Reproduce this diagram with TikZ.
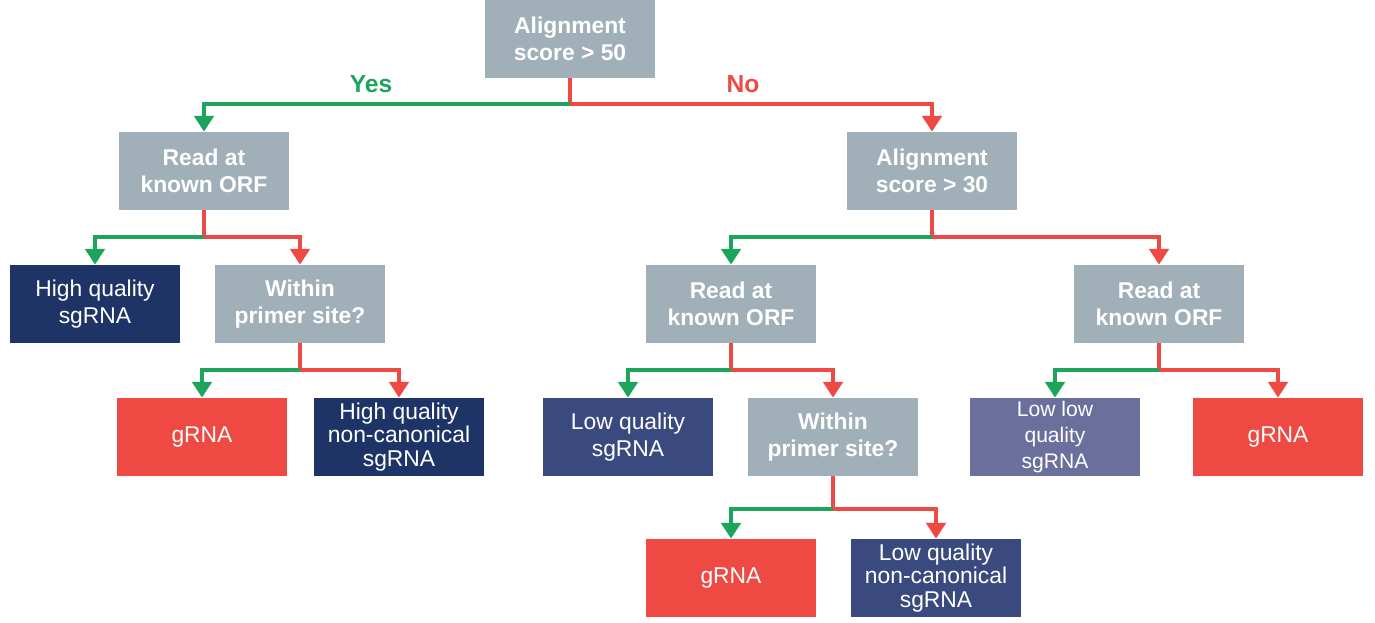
\documentclass[tikz,border=0pt]{standalone}
\usepackage{fontspec}
\setmainfont{Liberation Sans}
\usetikzlibrary{arrows.meta}

\definecolor{testgray}{HTML}{A1AFB8}
\definecolor{yesgreen}{HTML}{1BA45A}
\definecolor{nored}{HTML}{EE4A43}
\definecolor{hiqblue}{HTML}{1F3466}
\definecolor{loqblue}{HTML}{3B4A7E}
\definecolor{lolblue}{HTML}{6B6F9C}

\tikzset{
    box/.style={minimum width=3.4cm, minimum height=1.56cm, inner sep=0pt,
        align=center, text=white, font=\fontsize{13}{15.5}\selectfont},
    threeline/.style={font=\fontsize{13}{13.6}\selectfont},
    test/.style={box, fill=testgray, font=\fontsize{13}{15.5}\selectfont\bfseries},
    hiq/.style={box, fill=hiqblue},
    loq/.style={box, fill=loqblue},
    lol/.style={box, fill=lolblue},
    grna/.style={box, fill=nored},
    yesline/.style={draw=yesgreen, line width=2.3pt, -{Triangle[width=11pt,length=9pt]}},
    noline/.style={draw=nored, line width=2.3pt, -{Triangle[width=11pt,length=9pt]}},
}

\begin{document}
\begin{tikzpicture}[x=0.02cm, y=-0.02cm]
        \useasboundingbox (0,0) rectangle (1375,622);

        % first split
        \node[test] (score50) at (570,39) {Alignment\\score > 50};
        \node[test] (orf_yes) at (204,171) {Read at\\known ORF};
        \node[test] (score30) at (932,171) {Alignment\\score > 30};
        \coordinate (split50) at (570,104);
        \draw[noline] (score50.south) -- (split50) -| (score30.north);
        \draw[yesline] (split50) -| (orf_yes.north);
        \node[text=yesgreen, font=\fontsize{14}{16}\selectfont\bfseries] (yes_label) at (371,84) {Yes};
        \node[text=nored, font=\fontsize{14}{16}\selectfont\bfseries] (no_label) at (743,84) {No};

        % left side
        \node[hiq] (hiq_sgrna) at (95,304) {High quality\\sgRNA};
        \node[test] (primer_left) at (300,304) {Within\\primer site?};
        \coordinate (split_orf_yes) at (204,237);
        \draw[noline] (orf_yes.south) -- (split_orf_yes) -| (primer_left.north);
        \draw[yesline] (split_orf_yes) -| (hiq_sgrna.north);

        \node[grna] (grna_left) at (202,437) {gRNA};
        \node[hiq, threeline] (hiq_noncanon) at (399,437) {High quality\\non-canonical\\sgRNA};
        \coordinate (split_primer_left) at (300,370);
        \draw[noline] (primer_left.south) -- (split_primer_left) -| (hiq_noncanon.north);
        \draw[yesline] (split_primer_left) -| (grna_left.north);

        % right side
        \node[test] (orf_mid) at (731,304) {Read at\\known ORF};
        \node[test] (orf_right) at (1159,304) {Read at\\known ORF};
        \coordinate (split30) at (932,237);
        \draw[noline] (score30.south) -- (split30) -| (orf_right.north);
        \draw[yesline] (split30) -| (orf_mid.north);

        \node[loq] (loq_sgrna) at (628,437) {Low quality\\sgRNA};
        \node[test] (primer_mid) at (833,437) {Within\\primer site?};
        \coordinate (split_orf_mid) at (731,370);
        \draw[noline] (orf_mid.south) -- (split_orf_mid) -| (primer_mid.north);
        \draw[yesline] (split_orf_mid) -| (loq_sgrna.north);

        \node[lol, font=\fontsize{12}{14.7}\selectfont] (lol_sgrna) at (1055,437) {Low low\\quality\\sgRNA};
        \node[grna] (grna_right) at (1278,437) {gRNA};
        \coordinate (split_orf_right) at (1159,370);
        \draw[noline] (orf_right.south) -- (split_orf_right) -| (grna_right.north);
        \draw[yesline] (split_orf_right) -| (lol_sgrna.north);

        \node[grna] (grna_mid) at (731,578) {gRNA};
        \node[loq, threeline] (loq_noncanon) at (936,578) {Low quality\\non-canonical\\sgRNA};
        \coordinate (split_primer_mid) at (833,509);
        \draw[noline] (primer_mid.south) -- (split_primer_mid) -| (loq_noncanon.north);
        \draw[yesline] (split_primer_mid) -| (grna_mid.north);
    \end{tikzpicture}
\end{document}
